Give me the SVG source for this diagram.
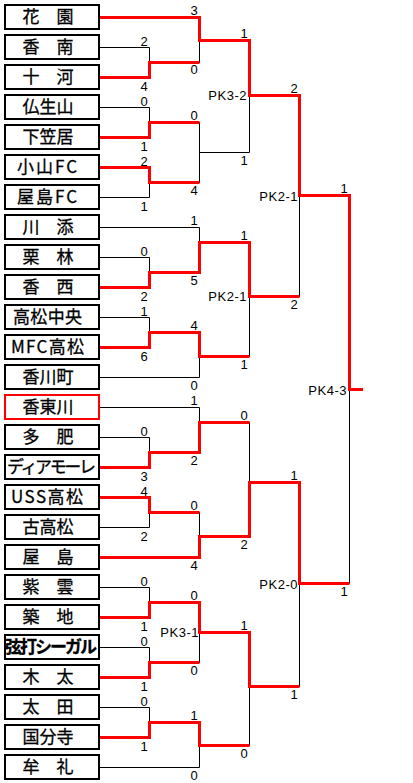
<svg xmlns="http://www.w3.org/2000/svg" width="413" height="783" viewBox="0 0 413 783">
<style>
.box{fill:#fff;stroke:#000;stroke-width:2}
.win{stroke:#f00}
.nm{font-family:"Noto Sans CJK JP","Noto Sans CJK SC",sans-serif;font-size:17px;fill:#000;text-anchor:middle;stroke:#000;stroke-width:0.3}
.nl{font-family:"Noto Sans CJK JP","Noto Sans CJK SC",sans-serif;font-size:17px;fill:#000;stroke:#000;stroke-width:0.3}
.sc{font-family:"Liberation Sans",Arial,sans-serif;font-size:13px;fill:#000;text-anchor:middle}
.pk{font-family:"Liberation Sans",Arial,sans-serif;font-size:13px;fill:#000;text-anchor:end;letter-spacing:0.5px}
.bl{fill:none;stroke:#000;stroke-width:1}
.rd{fill:none;stroke:#f00;stroke-width:3;stroke-linejoin:miter}
</style>
<rect width="413" height="783" fill="#fff"/>
<g id="connectors">
<path class="bl" d="M100 17.5H199.5M100 47.5H149.5M100 77.5H149.5M100 107.5H149.5M100 137.5H149.5M100 167.5H149.5M100 197.5H149.5M100 227.5H199.5M100 257.5H149.5M100 287.5H149.5M100 317.5H149.5M100 347.5H149.5M100 377.5H199.5M100 407.5H199.5M100 437.5H149.5M100 467.5H149.5M100 497.5H149.5M100 527.5H149.5M100 557.5H199.5M100 587.5H149.5M100 617.5H149.5M100 647.5H149.5M100 677.5H149.5M100 707.5H149.5M100 737.5H149.5M100 767.5H199.5
M149.5 47.5V77.5M149.5 107.5V137.5M149.5 167.5V197.5M149.5 257.5V287.5M149.5 317.5V347.5M149.5 437.5V467.5M149.5 497.5V527.5M149.5 587.5V617.5M149.5 647.5V677.5M149.5 707.5V737.5
M149.5 62.5H199.5M149.5 122.5H199.5M149.5 182.5H199.5M149.5 272.5H199.5M149.5 332.5H199.5M149.5 452.5H199.5M149.5 512.5H199.5M149.5 602.5H199.5M149.5 662.5H199.5M149.5 722.5H199.5
M199.5 17.5V62.5M199.5 122.5V182.5M199.5 227.5V272.5M199.5 332.5V377.5M199.5 407.5V452.5M199.5 512.5V557.5M199.5 602.5V662.5M199.5 722.5V767.5
M199.5 40.5H249.5M199.5 152.5H249.5M199.5 242.5H249.5M199.5 356.5H249.5M199.5 422.5H249.5M199.5 536.5H249.5M199.5 632.5H249.5M199.5 745.5H249.5
M249.5 40.5V152.5M249.5 242.5V356.5M249.5 422.5V536.5M249.5 632.5V745.5
M249.5 95.5H299.5M249.5 296.5H299.5M249.5 482.5H299.5M249.5 686.5H299.5
M299.5 95.5V296.5M299.5 482.5V686.5M299.5 195.5H349.5M299.5 583.5H349.5M349.5 195.5V583.5"/>
<path class="rd" d="M100 17.5H199.5V40.5H249.5V95.5H299.5V195.5H349.5V389.5H363"/>
<path class="rd" d="M100 77.5H149.5V62.5H199.5"/>
<path class="rd" d="M100 137.5H149.5V122.5H199.5"/>
<path class="rd" d="M100 167.5H149.5V182.5H199.5"/>
<path class="rd" d="M100 287.5H149.5V272.5H199.5V242.5H249.5V296.5H299.5"/>
<path class="rd" d="M100 347.5H149.5V332.5H199.5V356.5H249.5"/>
<path class="rd" d="M100 467.5H149.5V452.5H199.5V422.5H249.5"/>
<path class="rd" d="M100 497.5H149.5V512.5H199.5"/>
<path class="rd" d="M100 557.5H199.5V536.5H249.5V482.5H299.5V583.5H349.5"/>
<path class="rd" d="M100 617.5H149.5V602.5H199.5V632.5H249.5V686.5H299.5"/>
<path class="rd" d="M100 677.5H149.5V662.5H199.5"/>
<path class="rd" d="M100 737.5H149.5V722.5H199.5V745.5H249.5"/>
</g>
<g id="scores">
<text class="sc" x="144" y="46">2</text><text class="sc" x="144" y="91">4</text>
<text class="sc" x="144" y="106">0</text><text class="sc" x="144" y="151">1</text>
<text class="sc" x="144" y="166">2</text><text class="sc" x="144" y="211">1</text>
<text class="sc" x="144" y="256">0</text><text class="sc" x="144" y="301">2</text>
<text class="sc" x="144" y="316">1</text><text class="sc" x="144" y="361">6</text>
<text class="sc" x="144" y="436">0</text><text class="sc" x="144" y="481">3</text>
<text class="sc" x="144" y="496">4</text><text class="sc" x="144" y="541">2</text>
<text class="sc" x="144" y="586">0</text><text class="sc" x="144" y="631">1</text>
<text class="sc" x="144" y="646">0</text><text class="sc" x="144" y="691">1</text>
<text class="sc" x="144" y="706">0</text><text class="sc" x="144" y="751">1</text>
<text class="sc" x="194" y="15">3</text><text class="sc" x="194" y="74">0</text>
<text class="sc" x="194" y="120">0</text><text class="sc" x="194" y="195">4</text>
<text class="sc" x="194" y="225">1</text><text class="sc" x="194" y="285">5</text>
<text class="sc" x="194" y="330">4</text><text class="sc" x="194" y="390">0</text>
<text class="sc" x="194" y="405">1</text><text class="sc" x="194" y="465">2</text>
<text class="sc" x="194" y="510">0</text><text class="sc" x="194" y="570">4</text>
<text class="sc" x="194" y="600">0</text><text class="sc" x="194" y="675">0</text>
<text class="sc" x="194" y="720">1</text><text class="sc" x="194" y="780">0</text>
<text class="sc" x="244" y="38">1</text><text class="sc" x="244" y="165">1</text>
<text class="sc" x="244" y="240">1</text><text class="sc" x="244" y="369">1</text>
<text class="sc" x="244" y="420">0</text><text class="sc" x="244" y="549">2</text>
<text class="sc" x="244" y="630">1</text><text class="sc" x="244" y="758">0</text>
<text class="sc" x="294" y="93">2</text><text class="sc" x="294" y="309">2</text>
<text class="sc" x="294" y="480">1</text><text class="sc" x="294" y="699">1</text>
<text class="sc" x="344" y="193">1</text><text class="sc" x="344" y="596">1</text>
<text class="pk" x="247" y="100">PK3-2</text>
<text class="pk" x="247" y="301">PK2-1</text>
<text class="pk" x="298" y="201">PK2-1</text>
<text class="pk" x="347" y="395">PK4-3</text>
<text class="pk" x="298" y="589">PK2-0</text>
<text class="pk" x="199" y="637">PK3-1</text>
</g>
<g id="team0"><rect class="box" x="5" y="5" width="94" height="24"/><text class="nm" x="48" y="23">花　園</text></g>
<g id="team1"><rect class="box" x="5" y="35" width="94" height="24"/><text class="nm" x="48" y="53">香　南</text></g>
<g id="team2"><rect class="box" x="5" y="65" width="94" height="24"/><text class="nm" x="48" y="83">十　河</text></g>
<g id="team3"><rect class="box" x="5" y="95" width="94" height="24"/><text class="nm" x="48" y="113">仏生山</text></g>
<g id="team4"><rect class="box" x="5" y="125" width="94" height="24"/><text class="nm" x="48" y="143">下笠居</text></g>
<g id="team5"><rect class="box" x="5" y="155" width="94" height="24"/><text class="nl" x="17" y="173" textLength="60">小山FC</text></g>
<g id="team6"><rect class="box" x="5" y="185" width="94" height="24"/><text class="nl" x="17" y="203" textLength="60">屋島FC</text></g>
<g id="team7"><rect class="box" x="5" y="215" width="94" height="24"/><text class="nm" x="48" y="233">川　添</text></g>
<g id="team8"><rect class="box" x="5" y="245" width="94" height="24"/><text class="nm" x="48" y="263">栗　林</text></g>
<g id="team9"><rect class="box" x="5" y="275" width="94" height="24"/><text class="nm" x="48" y="293">香　西</text></g>
<g id="team10"><rect class="box" x="5" y="305" width="94" height="24"/><text class="nl" x="13" y="323" textLength="69">高松中央</text></g>
<g id="team11"><rect class="box" x="5" y="335" width="94" height="24"/><text class="nl" x="11" y="353" textLength="73">MFC高松</text></g>
<g id="team12"><rect class="box" x="5" y="365" width="94" height="24"/><text class="nm" x="48" y="383">香川町</text></g>
<g id="team13"><rect class="box win" x="5" y="395" width="94" height="24"/><text class="nm" x="48" y="413">香東川</text></g>
<g id="team14"><rect class="box" x="5" y="425" width="94" height="24"/><text class="nm" x="48" y="443">多　肥</text></g>
<g id="team15"><rect class="box" x="5" y="455" width="94" height="24"/><text class="nl" x="7" y="473" textLength="89">ディアモーレ</text></g>
<g id="team16"><rect class="box" x="5" y="485" width="94" height="24"/><text class="nl" x="11" y="503" textLength="72">USS高松</text></g>
<g id="team17"><rect class="box" x="5" y="515" width="94" height="24"/><text class="nm" x="48" y="533">古高松</text></g>
<g id="team18"><rect class="box" x="5" y="545" width="94" height="24"/><text class="nm" x="48" y="563">屋　島</text></g>
<g id="team19"><rect class="box" x="5" y="575" width="94" height="24"/><text class="nm" x="48" y="593">紫　雲</text></g>
<g id="team20"><rect class="box" x="5" y="605" width="94" height="24"/><text class="nm" x="48" y="623">築　地</text></g>
<g id="team21"><rect class="box" x="5" y="635" width="94" height="24"/><text class="nl" x="5" y="653" textLength="92" font-weight="bold">弦打シーガル</text></g>
<g id="team22"><rect class="box" x="5" y="665" width="94" height="24"/><text class="nm" x="48" y="683">木　太</text></g>
<g id="team23"><rect class="box" x="5" y="695" width="94" height="24"/><text class="nm" x="48" y="713">太　田</text></g>
<g id="team24"><rect class="box" x="5" y="725" width="94" height="24"/><text class="nm" x="48" y="743">国分寺</text></g>
<g id="team25"><rect class="box" x="5" y="755" width="94" height="24"/><text class="nm" x="48" y="773">牟　礼</text></g>
</svg>
